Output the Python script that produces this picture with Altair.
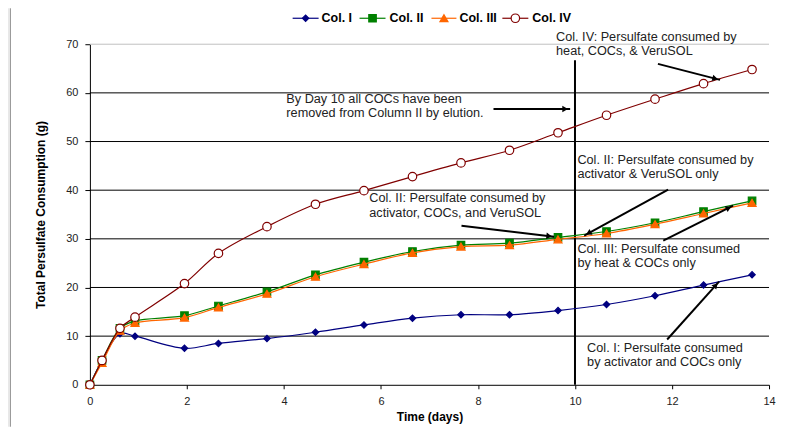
import math
import altair as alt
import pandas as pd

# ---------------- data ----------------
days = [0, 0.25, 0.62, 0.93, 1.95, 2.65, 3.65, 4.65, 5.65, 6.65, 7.65, 8.65, 9.65, 10.65, 11.65, 12.65, 13.65]
col1 = [0, 5.0, 10.5, 10.0, 7.5, 8.5, 9.5, 10.8, 12.3, 13.7, 14.4, 14.4, 15.25, 16.5, 18.3, 20.5, 22.6]
col2 = [0, 5.0, 11.6, 13.1, 14.2, 16.2, 19.1, 22.6, 25.2, 27.4, 28.7, 29.1, 30.3, 31.5, 33.3, 35.6, 37.8]
col3 = [0, 4.5, 11.1, 12.7, 13.8, 15.9, 18.7, 22.2, 24.8, 27.1, 28.4, 28.7, 29.9, 31.1, 33.0, 35.2, 37.4]
col4 = [0, 5.0, 11.6, 13.9, 20.8, 27.0, 32.5, 37.1, 39.9, 42.8, 45.6, 48.2, 51.8, 55.4, 58.7, 61.9, 64.8]

series = ["Col. I", "Col. II", "Col. III", "Col. IV"]
colors = ["#000080", "#008000", "#FF6600", "#800000"]
fills = ["#000080", "#008000", "#FF6600", "#FFFFFF"]
shapes = ["diamond", "square", "triangle-up", "circle"]
sizes = [40, 56, 64, 72]

x_ticks = [0, 2, 4, 6, 8, 10, 12, 14]
y_ticks = [0, 10, 20, 30, 40, 50, 60, 70]
grid_dark = [10, 20, 30, 40, 50, 60]
grid_light = [70]

# annotation text lines (day, grams, text)
notes_x = [9.61, 9.61, 4.05, 4.05, 10.05, 10.05, 5.76, 5.76, 10.05, 10.05, 10.25, 10.25]
notes_y = [71.5, 68.6, 58.8, 55.9, 46.3, 43.3, 38.4, 35.4, 27.9, 25.0, 7.6, 4.7]
notes_t = [
    "Col. IV: Persulfate consumed by", "heat, COCs, & VeruSOL",
    "By Day 10 all COCs have been", "removed from Column II by elution.",
    "Col. II: Persulfate consumed by", "activator & VeruSOL only",
    "Col. II: Persulfate consumed by", "activator, COCs, and VeruSOL",
    "Col. III: Persulfate consumed", "by heat & COCs only",
    "Col. I: Persulfate consumed", "by activator and COCs only",
]

# arrows (start day, start g, end day, end g)
arr_x1 = [8.32, 11.71, 11.92, 7.66, 11.82, 11.90]
arr_y1 = [56.7, 65.96, 40.09, 32.70, 29.62, 9.30]
arr_x2 = [9.90, 12.99, 10.19, 9.57, 13.26, 12.97]
arr_y2 = [56.7, 62.67, 30.65, 30.44, 36.81, 21.21]

# vertical marker line at day 10
vline_x = [10]
vline_top = [66.7]

# ---------------- layout ----------------
W, H = 680, 341
FONT = "Liberation Sans"
kx, ky = W / 14.0, H / 70.0

xs = alt.Scale(domain=[0, 14], nice=False, zero=False)
ys = alt.Scale(domain=[0, 70], nice=False)

X_AXIS = alt.Axis(
    values=x_ticks, grid=False, domainColor="black", tickColor="black", tickSize=4,
    labelPadding=7, labelFont=FONT, labelFontSize=11, labelColor="#222", labelFlush=False,
    title="Time (days)", titleFont=FONT, titleFontSize=12, titleFontWeight="bold",
    titleColor="black", titlePadding=5)
Y_AXIS = alt.Axis(
    values=y_ticks, grid=False, domainColor="black", tickColor="black", tickSize=5,
    labelPadding=7, labelFont=FONT, labelFontSize=11, labelColor="#222", labelFlush=False,
    title="Total Persulfate Consumption (g)", titleFont=FONT, titleFontSize=12,
    titleFontWeight="bold", titleColor="black", titlePadding=18)


def X(f):
    return alt.X(f, scale=xs, axis=X_AXIS, title="Time (days)")


def Y(f):
    return alt.Y(f, scale=ys, axis=Y_AXIS, title="Total Persulfate Consumption (g)")


layers = []

# gridlines
layers.append(alt.Chart(pd.DataFrame({"g": grid_dark})).mark_rule(color="black", strokeWidth=1).encode(
    y=Y("g:Q"), x=alt.value(0), x2=alt.value(W)))
layers.append(alt.Chart(pd.DataFrame({"g": grid_light})).mark_rule(color="#c0c0c0", strokeWidth=1).encode(
    y=Y("g:Q"), x=alt.value(0), x2=alt.value(W)))

# vertical day-10 line
layers.append(alt.Chart(pd.DataFrame({"x": vline_x, "t": vline_top, "b": [0]})).mark_rule(
    color="black", strokeWidth=2).encode(x=X("x:Q"), y=Y("t:Q"), y2="b:Q"))

# series
for name, vals, c, f, shp, sz in zip(series, [col1, col2, col3, col4], colors, fills, shapes, sizes):
    d = pd.DataFrame({"day": days, "val": vals})
    layers.append(alt.Chart(d).mark_line(color=c, strokeWidth=1.2, interpolate="catmull-rom").encode(
        x=X("day:Q"), y=Y("val:Q")))
    layers.append(alt.Chart(d).mark_point(shape=shp, size=sz, filled=True, fill=f, stroke=c,
                                          strokeWidth=1.2, opacity=1).encode(
        x=X("day:Q"), y=Y("val:Q")))

# arrows
heads = []
for x1, y1, x2, y2 in zip(arr_x1, arr_y1, arr_x2, arr_y2):
    dxp = (x2 - x1) * kx
    dyp = -(y2 - y1) * ky
    L = math.hypot(dxp, dyp)
    ux, uy = dxp / L, dyp / L
    ang = math.degrees(math.atan2(ux, -uy)) % 360
    back = 5.0
    heads.append({"hx": x2 - ux * back / kx, "hy": y2 + uy * back / ky, "ang": ang})
arr_df = pd.DataFrame({"x1": arr_x1, "y1": arr_y1, "x2": arr_x2, "y2": arr_y2})
layers.append(alt.Chart(arr_df).mark_rule(color="black", strokeWidth=2).encode(
    x=X("x1:Q"), y=Y("y1:Q"), x2="x2:Q", y2="y2:Q"))
layers.append(alt.Chart(pd.DataFrame(heads)).mark_point(
    shape="triangle-up", size=42, filled=True, color="black", opacity=1).encode(
    x=X("hx:Q"), y=Y("hy:Q"), angle=alt.Angle("ang:Q", scale=None)))

# annotation text
layers.append(alt.Chart(pd.DataFrame({"x": notes_x, "y": notes_y, "t": notes_t})).mark_text(
    align="left", baseline="middle", font=FONT, fontSize=12.7, color="#222").encode(
    x=X("x:Q"), y=Y("y:Q"), text="t:N"))

# decorative left frame strip
one = pd.DataFrame({"a": [0]})
layers.append(alt.Chart(one).mark_rect(color="#e8e8e8").encode(
    x=alt.value(-82), x2=alt.value(-80), y=alt.value(-36), y2=alt.value(H + 42)))
layers.append(alt.Chart(one).mark_rule(color="#9a9a9a", strokeWidth=1).encode(
    x=alt.value(-79.5), y=alt.value(-36), y2=alt.value(H + 42)))

# manual legend (pixel positions relative to plot origin)
leg_line_x1 = [203, 270, 342, 413]
leg_line_x2 = [229, 296, 367, 439]
leg_text_x = [232, 300, 370, 443]
leg_y = -26
for i, name in enumerate(series):
    a, b, t = leg_line_x1[i], leg_line_x2[i], leg_text_x[i]
    layers.append(alt.Chart(one).mark_rule(color=colors[i], strokeWidth=1.2).encode(
        x=alt.value(a), x2=alt.value(b), y=alt.value(leg_y)))
    layers.append(alt.Chart(one).mark_point(shape=shapes[i], size=sizes[i], filled=True, fill=fills[i],
                                            stroke=colors[i], strokeWidth=1.2, opacity=1).encode(
        x=alt.value((a + b) / 2), y=alt.value(leg_y)))
    layers.append(alt.Chart(one).mark_text(align="left", baseline="middle", font=FONT, fontSize=12.5,
                                           fontWeight="bold", color="black").encode(
        x=alt.value(t), y=alt.value(leg_y), text=alt.value(name)))

chart = alt.layer(*layers).properties(
    width=W, height=H,
    autosize=alt.AutoSizeParams(type="none"),
    padding={"left": 82, "top": 36, "right": 20, "bottom": 42},
    background="white",
).configure_view(stroke=None)

chart.save("out.html", embed_options={"renderer": "svg", "actions": False})
